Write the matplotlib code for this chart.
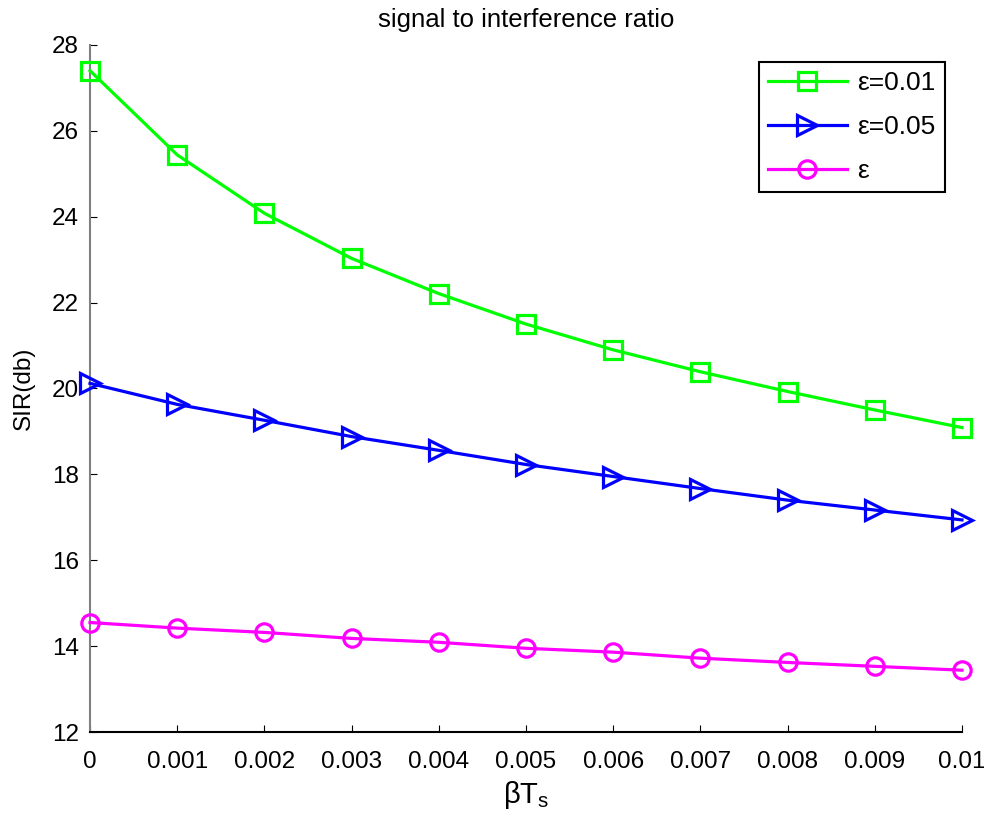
import matplotlib
matplotlib.use("Agg")
import matplotlib.pyplot as plt

x = [0, 0.001, 0.002, 0.003, 0.004, 0.005, 0.006, 0.007, 0.008, 0.009, 0.01]
sir_eps001 = [27.4, 25.44, 24.08, 23.03, 22.21, 21.5, 20.9, 20.39, 19.93, 19.5, 19.09]
sir_eps005 = [20.12, 19.63, 19.26, 18.88, 18.56, 18.23, 17.95, 17.67, 17.4, 17.17, 16.94]
sir_eps = [14.55, 14.42, 14.32, 14.18, 14.09, 13.95, 13.86, 13.72, 13.62, 13.53, 13.44]
labels = ["ε=0.01", "ε=0.05", "ε"]
xticks = [0, 0.001, 0.002, 0.003, 0.004, 0.005, 0.006, 0.007, 0.008, 0.009, 0.01]
xticklabels = ["0", "0.001", "0.002", "0.003", "0.004", "0.005", "0.006", "0.007", "0.008", "0.009", "0.01"]
yticks = [12, 14, 16, 18, 20, 22, 24, 26, 28]

plt.rcParams['font.family'] = ['Liberation Sans', 'DejaVu Sans']
plt.rcParams['mathtext.fontset'] = 'custom'
plt.rcParams['mathtext.rm'] = 'Liberation Sans'
plt.rcParams['mathtext.it'] = 'Liberation Sans'

fig = plt.figure(figsize=(9.84, 8.16), dpi=100)
ax = fig.add_axes([0.0915, 0.1029, 0.8861, 0.842])

ax.plot(x, sir_eps001, color='#00ff00', lw=2.3, marker='s', ms=12.5, mew=2.3,
        mfc='none', label=labels[0], clip_on=False, zorder=3)
ax.plot(x, sir_eps005, color='#0000ff', lw=2.3, marker='>', ms=15, mew=2.3,
        mfc='none', label=labels[1], clip_on=False, zorder=3)
ax.plot(x, sir_eps, color='#ff00ff', lw=2.3, marker='o', ms=12.5, mew=2.3,
        mfc='none', label=labels[2], clip_on=False, zorder=3)

ax.set_xlim(0, 0.01)
ax.set_ylim(12, 28)
ax.set_xticks(xticks)
ax.set_xticklabels(xticklabels)
ax.set_yticks(yticks)
ax.tick_params(direction='in', length=5, labelsize=17.5, colors='black')
ax.tick_params(axis='x', pad=14)
ax.tick_params(axis='y', pad=8)
ax.spines['top'].set_visible(False)
ax.spines['right'].set_visible(False)
ax.spines['left'].set_color('#808080')
ax.spines['left'].set_linewidth(1.5)
ax.spines['bottom'].set_color('black')
ax.spines['bottom'].set_linewidth(1.5)

ax.set_title("signal to interference ratio", fontsize=18.5, pad=13)
ax.set_xlabel(r"$\mathregular{\beta T_s}$", fontsize=21, labelpad=4)
ax.set_ylabel("SIR(db)", fontsize=17.5, labelpad=12)

leg = ax.legend(loc='upper right', bbox_to_anchor=(0.9805, 0.975), fontsize=19,
                fancybox=False, framealpha=1, edgecolor='black', handlelength=3.0,
                borderpad=0.35, labelspacing=0.75, handletextpad=0.4,
                borderaxespad=0)
leg.get_frame().set_linewidth(1.5)

fig.savefig("out.png", dpi=100)
